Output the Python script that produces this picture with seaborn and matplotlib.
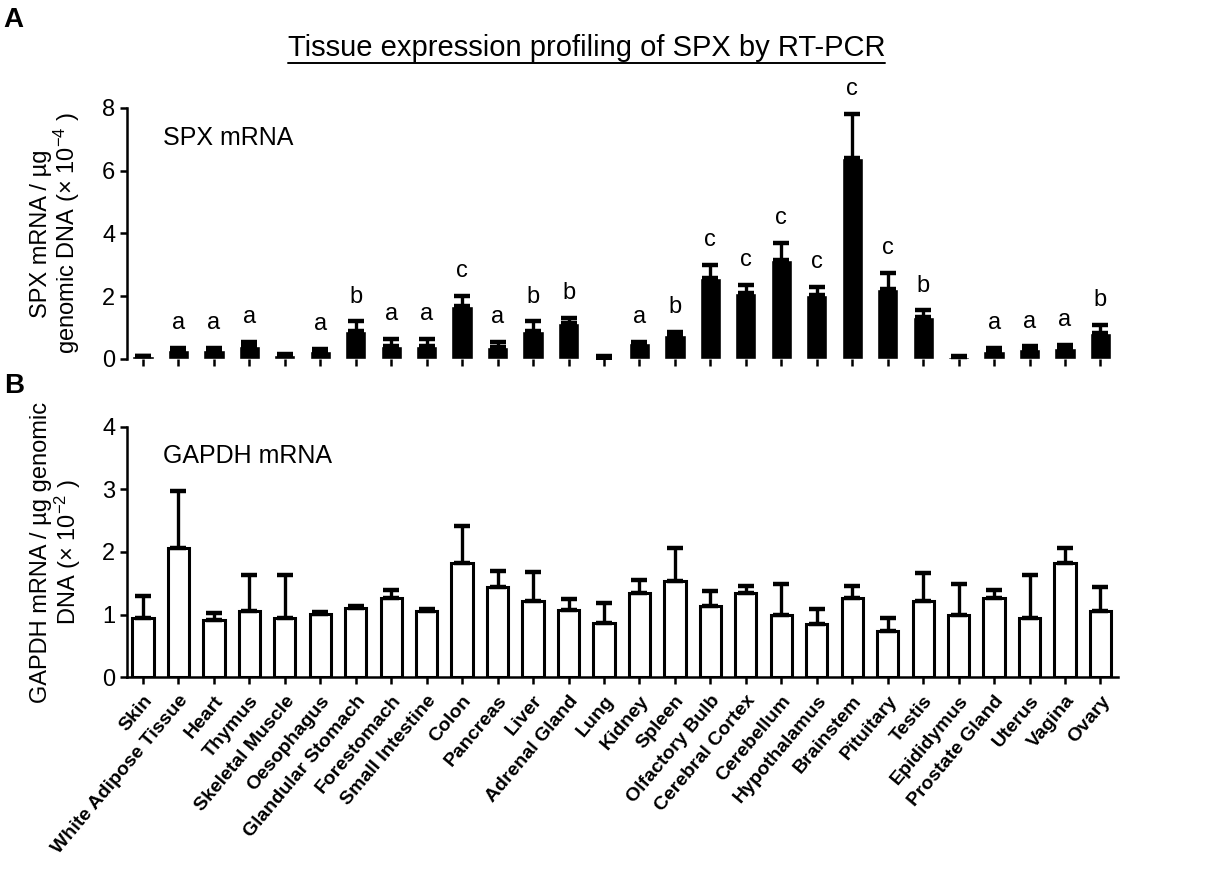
import numpy as np
import pandas as pd
import seaborn as sns
import matplotlib.pyplot as plt

sns.set_style("ticks")
plt.rcParams['font.family'] = ['Liberation Sans', 'DejaVu Sans']
plt.rcParams['mathtext.default'] = 'regular'
plt.rcParams['text.color'] = 'black'
plt.rcParams['axes.labelcolor'] = 'black'
plt.rcParams['xtick.color'] = 'black'
plt.rcParams['ytick.color'] = 'black'
plt.rcParams['axes.edgecolor'] = 'black'

# tissues, in the order shown on the x axis
tissues = ["Skin", "White Adipose Tissue", "Heart", "Thymus", "Skeletal Muscle",
           "Oesophagus", "Glandular Stomach", "Forestomach", "Small Intestine",
           "Colon", "Pancreas", "Liver", "Adrenal Gland", "Lung", "Kidney",
           "Spleen", "Olfactory Bulb", "Cerebral Cortex", "Cerebellum",
           "Hypothalamus", "Brainstem", "Pituitary", "Testis", "Epididymus",
           "Prostate Gland", "Uterus", "Vagina", "Ovary"]

# SPX mRNA (x 10^-4) mean and upper error
spx_mean = [0.08, 0.30, 0.30, 0.42, 0.12, 0.25, 0.88, 0.42, 0.42, 1.70,
            0.38, 0.88, 1.15, 0.04, 0.50, 0.76, 2.59, 2.10, 3.14, 2.03,
            6.40, 2.24, 1.33, 0.05, 0.24, 0.32, 0.35, 0.83]
spx_err = [0.02, 0.05, 0.05, 0.12, 0.05, 0.07, 0.32, 0.22, 0.22, 0.30,
           0.16, 0.32, 0.16, 0.04, 0.05, 0.09, 0.41, 0.27, 0.56, 0.28,
           1.41, 0.50, 0.22, 0.03, 0.12, 0.08, 0.11, 0.26]
spx_letters = ["", "a", "a", "a", "", "a", "b", "a", "a", "c", "a", "b", "b", "",
               "a", "b", "c", "c", "c", "c", "c", "c", "b", "", "a", "a", "a", "b"]

# GAPDH mRNA (x 10^-2) mean and upper error
gapdh_mean = [0.94, 2.07, 0.91, 1.06, 0.94, 1.01, 1.10, 1.26, 1.06, 1.82,
              1.44, 1.22, 1.07, 0.87, 1.35, 1.53, 1.13, 1.35, 0.99, 0.85,
              1.27, 0.73, 1.22, 0.99, 1.26, 0.94, 1.82, 1.06]
gapdh_err = [0.35, 0.90, 0.12, 0.57, 0.69, 0.03, 0.03, 0.13, 0.03, 0.59,
             0.25, 0.46, 0.18, 0.32, 0.20, 0.54, 0.25, 0.10, 0.50, 0.24,
             0.18, 0.22, 0.45, 0.50, 0.13, 0.69, 0.25, 0.38]

df = pd.DataFrame({"tissue": tissues, "spx": spx_mean, "spx_err": spx_err,
                   "gapdh": gapdh_mean, "gapdh_err": gapdh_err})
x = np.arange(len(tissues))
zeros = np.zeros(len(tissues))

fig = plt.figure(figsize=(12.14, 8.73), dpi=100)
ax1 = fig.add_axes([0.1046, 0.5888, 0.8165, 0.2875])
ax2 = fig.add_axes([0.1046, 0.2245, 0.8165, 0.2864])

# panel A: SPX
sns.barplot(data=df, x="tissue", y="spx", color="black", width=0.6,
            errorbar=None, saturation=1, ax=ax1)
ax1.errorbar(x, df["spx"], yerr=[zeros, df["spx_err"]], fmt="none",
             ecolor="black", elinewidth=2.4, capsize=6, capthick=3.2)
for i, lab in enumerate(spx_letters):
    if lab:
        ax1.text(i, spx_mean[i] + spx_err[i] + 0.6, lab, ha="center",
                 va="baseline", fontsize=17)
ax1.set_ylim(0, 8)
ax1.set_yticks([0, 2, 4, 6, 8])
ax1.set_xlim(-0.45, 27.5)
ax1.set_xticklabels([])
ax1.set_xlabel("")
ax1.set_ylabel("SPX mRNA / µg\ngenomic DNA ($\\times$ 10$^{-4}$ )", fontsize=17,
               labelpad=14, linespacing=1.0)
sns.despine(ax=ax1, bottom=True)
ax1.text(0.036, 0.93, "SPX mRNA", transform=ax1.transAxes, fontsize=18,
         va="top", ha="left")

# panel B: GAPDH
sns.barplot(data=df, x="tissue", y="gapdh", color="white", width=0.6,
            errorbar=None, saturation=1, edgecolor="black", linewidth=2.2, ax=ax2)
ax2.errorbar(x, df["gapdh"], yerr=[zeros, df["gapdh_err"]], fmt="none",
             ecolor="black", elinewidth=2.4, capsize=6, capthick=3.2)
ax2.set_ylim(0, 4)
ax2.set_yticks([0, 1, 2, 3, 4])
ax2.set_xlim(-0.45, 27.5)
ax2.set_xlabel("")
ax2.set_ylabel("GAPDH mRNA / µg genomic\nDNA ($\\times$ 10$^{-2}$ )", fontsize=17,
               labelpad=14, linespacing=1.0)
ax2.set_xticks(x)
ax2.set_xticklabels(tissues, rotation=50, ha="right", rotation_mode="anchor",
                    fontweight="bold")
sns.despine(ax=ax2)
ax2.text(0.036, 0.93, "GAPDH mRNA", transform=ax2.transAxes, fontsize=18,
         va="top", ha="left")

for ax in (ax1, ax2):
    for s in ax.spines.values():
        s.set_linewidth(1.8)
    ax.tick_params(axis="both", width=1.8, length=5, labelsize=17)
    ax.tick_params(axis="x", length=5, pad=6, labelsize=14)

# panel letters and title
fig.text(0.003, 0.977, "A", fontsize=20, fontweight="bold", va="center")
fig.text(0.003, 0.558, "B", fontsize=20, fontweight="bold", va="center")
title = fig.text(0.483, 0.945, "Tissue expression profiling of SPX by RT-PCR",
                 fontsize=21, ha="center", va="center")
fig.canvas.draw()
bb = title.get_window_extent().transformed(fig.transFigure.inverted())
fig.add_artist(plt.Line2D([bb.x0, bb.x1], [bb.y0 - 0.001, bb.y0 - 0.001],
                          color="black", lw=1.4, transform=fig.transFigure))

fig.savefig("out.png", dpi=100)
